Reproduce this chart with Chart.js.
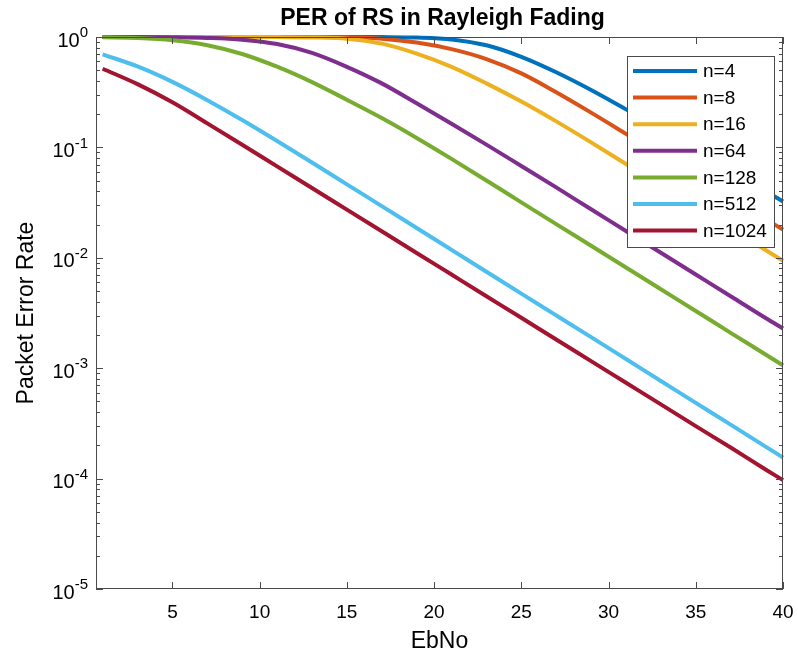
<!DOCTYPE html>
<html>
<head>
<meta charset="utf-8">
<script src="https://cdn.jsdelivr.net/npm/chart.js@4"></script>
<style>
  body { margin: 0; background: #fff; }
  #wrap { width: 798px; height: 656px; }
</style>
</head>
<body>
<div id="wrap"><canvas id="perChart" width="798" height="656"></canvas></div>
<script>
  // EbNo sample points (dB) and packet error rate
  const ebno = [1, 3, 5, 7, 9, 11, 13, 15, 17, 19, 21, 23, 25, 27, 29, 31, 33, 35, 37, 39, 40];
  const per4 = [1, 1, 1, 1, 1, 1, 1, 1, 0.998, 0.989, 0.951, 0.841, 0.661, 0.479, 0.331, 0.221, 0.1455, 0.0951, 0.0617, 0.04, 0.0324];
  const per8 = [1, 1, 1, 1, 1, 1, 1, 0.993, 0.966, 0.891, 0.776, 0.631, 0.468, 0.316, 0.2065, 0.1327, 0.0851, 0.0546, 0.035, 0.0224, 0.018];
  const per16 = [1, 1, 1, 1, 1, 0.998, 0.991, 0.966, 0.871, 0.708, 0.537, 0.38, 0.26, 0.172, 0.111, 0.0708, 0.0452, 0.0288, 0.0184, 0.01175, 0.0094];
  const per64 = [1, 1, 0.9954, 0.9817, 0.9462, 0.863, 0.718, 0.537, 0.38, 0.251, 0.164, 0.106, 0.0679, 0.0434, 0.0275, 0.0175, 0.0111, 0.00706, 0.00449, 0.00285, 0.00229];
  const per128 = [0.993, 0.979, 0.935, 0.843, 0.702, 0.538, 0.39, 0.27, 0.1845, 0.1219, 0.0787, 0.0501, 0.0318, 0.0202, 0.01285, 0.00817, 0.00519, 0.0033, 0.00209, 0.00133, 0.00106];
  const per512 = [0.697, 0.541, 0.392, 0.268, 0.177, 0.1143, 0.0731, 0.0463, 0.0294, 0.01862, 0.0118, 0.00748, 0.00474, 0.00301, 0.00191, 0.00121, 0.000766, 0.000485, 0.000308, 0.000195, 0.000155];
  const per1024 = [0.516, 0.374, 0.256, 0.165, 0.1057, 0.0673, 0.0429, 0.0273, 0.01738, 0.01107, 0.00705, 0.00449, 0.00286, 0.00182, 0.001159, 0.000738, 0.00047, 0.000299, 0.000191, 0.000121, 0.0000968];

  const seriesNames = ['n=4', 'n=8', 'n=16', 'n=64', 'n=128', 'n=512', 'n=1024'];
  const seriesValues = [per4, per8, per16, per64, per128, per512, per1024];
  const seriesColors = ['#0072BD', '#D95319', '#EDB120', '#7E2F8E', '#77AC30', '#4DBEEE', '#A2142F'];

  const xTicks = [5, 10, 15, 20, 25, 30, 35, 40];
  const yExponents = [-5, -4, -3, -2, -1, 0];

  const axisColor = '#4a4a4a';
  const font = '"Liberation Sans", Arial, Helvetica, sans-serif';

  const datasets = seriesValues.map(function (vals, i) {
    return {
      label: seriesNames[i],
      data: vals.map(function (v, j) { return { x: ebno[j], y: v }; }),
      borderColor: seriesColors[i],
      backgroundColor: seriesColors[i],
      borderWidth: 4,
      pointRadius: 0,
      fill: false,
      cubicInterpolationMode: 'monotone',
      clip: 4,
      order: seriesValues.length - 1 - i
    };
  });

  // MATLAB-like box, inward ticks, labels and legend
  const matlabAxes = {
    id: 'matlabAxes',
    afterDatasetsDraw(chart) {
      const ctx = chart.ctx;
      const a = chart.chartArea;
      const xs = chart.scales.x;
      const ys = chart.scales.y;
      ctx.save();

      // box
      ctx.strokeStyle = axisColor;
      ctx.lineWidth = 1;
      ctx.strokeRect(a.left + 0.5, a.top + 0.5, a.right - a.left - 1, a.bottom - a.top - 1);

      // x ticks
      ctx.beginPath();
      xTicks.forEach(function (t) {
        const px = Math.round(xs.getPixelForValue(t)) + 0.5;
        ctx.moveTo(px, a.bottom); ctx.lineTo(px, a.bottom - 7);
        ctx.moveTo(px, a.top); ctx.lineTo(px, a.top + 7);
      });
      // y ticks, major and minor
      yExponents.forEach(function (e) {
        for (let k = 1; k <= 9; k++) {
          if (e === 0 && k > 1) break;
          const py = Math.round(ys.getPixelForValue(k * Math.pow(10, e))) + 0.5;
          const len = k === 1 ? 7 : 4;
          ctx.moveTo(a.left, py); ctx.lineTo(a.left + len, py);
          ctx.moveTo(a.right, py); ctx.lineTo(a.right - len, py);
        }
      });
      ctx.stroke();

      // tick labels
      ctx.fillStyle = '#000';
      ctx.font = '19px ' + font;
      ctx.textAlign = 'center';
      ctx.textBaseline = 'middle';
      xTicks.forEach(function (t) {
        ctx.fillText(String(t), xs.getPixelForValue(t), 613);
      });
      yExponents.forEach(function (e) {
        const py = ys.getPixelForValue(Math.pow(10, e));
        const exp = String(e);
        ctx.font = '15px ' + font;
        const ew = ctx.measureText(exp).width;
        ctx.textAlign = 'right';
        ctx.fillText(exp, 88, py - 4);
        ctx.font = '20px ' + font;
        ctx.fillText('10', 88 - ew, py + 4);
      });

      // axis titles and title
      ctx.textAlign = 'center';
      ctx.font = '23px ' + font;
      ctx.fillText('EbNo', (a.left + a.right) / 2, 642);
      ctx.save();
      ctx.translate(27, (a.top + a.bottom) / 2);
      ctx.rotate(-Math.PI / 2);
      ctx.fillText('Packet Error Rate', 0, 0);
      ctx.restore();
      ctx.font = 'bold 23px ' + font;
      ctx.fillText('PER of RS in Rayleigh Fading', (a.left + a.right) / 2 + 3, 19);

      // legend
      const lx = 627, ly = 56, lw = 147, lh = 191;
      ctx.fillStyle = '#fff';
      ctx.fillRect(lx, ly, lw, lh);
      ctx.strokeStyle = axisColor;
      ctx.strokeRect(lx + 0.5, ly + 0.5, lw, lh);
      ctx.font = '19px ' + font;
      ctx.textAlign = 'left';
      seriesNames.forEach(function (name, i) {
        const ry = 71 + i * 26.6;
        ctx.strokeStyle = seriesColors[i];
        ctx.lineWidth = 4;
        ctx.beginPath();
        ctx.moveTo(633, ry); ctx.lineTo(697, ry);
        ctx.stroke();
        ctx.fillStyle = '#000';
        ctx.fillText(name, 703, ry + 1);
      });
      ctx.restore();
    }
  };

  const config = {
    type: 'line',
    data: { datasets: datasets },
    options: {
      responsive: false,
      animation: false,
      layout: { padding: { left: 96, top: 37, right: 15, bottom: 67 } },
      plugins: { legend: { display: false }, tooltip: { enabled: false } },
      scales: {
        x: { type: 'linear', min: 0.62, max: 40, display: false },
        y: { type: 'logarithmic', min: 1e-5, max: 1, display: false }
      }
    },
    plugins: [matlabAxes]
  };

  var perChart = new Chart(document.getElementById('perChart'), config);
</script>
</body>
</html>
